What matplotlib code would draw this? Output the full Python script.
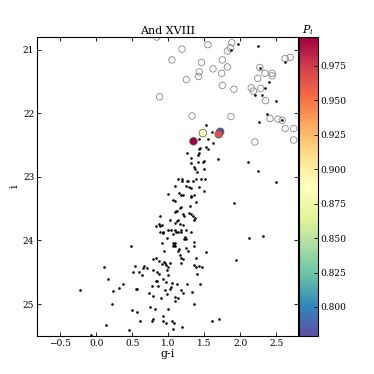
import matplotlib
matplotlib.use("Agg")
import matplotlib.pyplot as plt
import numpy as np

plt.rcParams["font.family"] = "DejaVu Serif"
plt.rcParams["mathtext.fontset"] = "dejavuserif"

# non-member stars (open circles)
circ_gi = [0.84, 1.19, 1.55, 1.88, 1.86, 1.82, 1.05, 1.46, 1.75, 1.82, 1.62, 1.43, 1.74,
           1.42, 1.25, 1.75, 1.91, 0.88, 2.27, 2.34, 2.44, 2.44, 2.24, 2.15, 2.18, 2.28,
           2.35, 2.62, 2.69, 1.33, 1.87, 2.41, 2.52, 2.58, 2.62, 2.74, 2.74, 2.20]
circ_i = [20.80, 20.99, 20.92, 20.89, 20.97, 21.02, 21.16, 21.20, 21.16, 21.27, 21.30, 21.35,
          21.37, 21.42, 21.47, 21.56, 21.62, 21.74, 21.28, 21.37, 21.37, 21.41, 21.45, 21.60,
          21.65, 21.61, 21.80, 21.14, 21.12, 22.04, 22.05, 22.08, 22.09, 22.11, 22.24, 22.24,
          22.42, 22.45]

# all sources (small dots)
dot_gi = [1.96, 1.87, 2.24, 2.62, 2.27, 2.40, 2.34, 2.20, 2.30, 2.50, 2.37, 2.26, 1.52, 2.58,
          1.60, 1.42, 1.55, 1.62, 1.44, 1.43, 1.53, 1.55, 1.26, 1.42, 1.41, 1.31, 1.69, 1.50,
          1.48, 1.41, 1.32, 2.10, 1.36, 1.37, 1.50, 2.24, 1.40, 2.50, 1.14, 1.19, 1.19, 1.26,
          1.28, 1.38, 1.45, 1.51, 1.34, 1.09, 1.24, 1.29, 1.42, 1.49, 1.32,
          0.99, 1.15, 1.17, 1.21, 1.32, 1.36, 1.31, 1.39, 1.07, 1.09, 1.91, 1.18, 1.16, 1.30,
          1.11, 1.12, 1.09, 1.29, 1.32, 1.34, 1.20, 1.22, 1.37, 1.36, 0.89, 1.02, 1.14, 1.12,
          1.09, 1.16, 1.21, 0.83, 0.87, 0.91, 0.89, 1.00, 1.04, 1.10, 1.11, 1.13, 1.17, 1.17,
          1.24, 1.07, 1.31, 0.88, 0.92, 0.92, 2.12, 2.32, 0.98, 1.23, 1.24, 1.22, 0.91, 1.06,
          1.08, 1.10, 1.09, 1.07, 1.35, 1.36, 1.24, 1.28, 1.15, 1.13, 0.94, 1.52, 1.16, 1.17,
          1.21, 0.83, 0.79, 1.38, 0.49,
          1.94, 0.94, 0.96, 0.91, 0.97, 0.87, 1.02, 1.00, 1.18, 0.67, 0.65, 0.70, 1.36, 1.42,
          1.47, 1.39, 0.79, 0.98, 0.85, 0.87, 0.64, 1.00, 1.40, 0.92, 0.83, 0.85, 0.97, 1.05,
          0.78, 0.86, 1.04, 1.02, 1.12, 1.26, 1.44, 0.96, 1.17, 1.21, 1.33, 0.73, 0.98, 0.79,
          0.90, 1.10, 1.13, 1.09, 1.35, 0.99, 0.75, 0.81, 0.92, 0.79, 0.78, 0.92, 1.05, 1.08,
          0.97, 0.61, 1.60, 1.70, 1.19, 1.07,
          0.11, 0.54, 0.51, 0.59, 0.17, 0.37, 0.31, 0.23, 0.55, 0.57, -0.22, 0.22, 0.50, 0.56,
          0.13, 0.45, -0.07]
dot_i = [20.91, 21.00, 20.94, 21.20, 21.28, 21.50, 21.60, 21.71, 21.71, 21.81, 22.01, 22.14,
         22.19, 22.11,
         22.30, 22.41, 22.40, 22.46, 22.54, 22.56, 22.53, 22.56, 22.63, 22.63, 22.66, 22.71,
         22.72, 22.75, 22.76, 22.76, 22.78, 22.77, 22.85, 22.87, 22.88, 22.91, 22.93, 23.08,
         23.03, 23.04, 23.06, 23.07, 23.07, 23.04, 23.04, 23.03, 23.07, 23.15, 23.14, 23.16,
         23.16, 23.22, 23.17,
         23.27, 23.25, 23.28, 23.28, 23.30, 23.29, 23.32, 23.40, 23.36, 23.38, 23.41, 23.48,
         23.49, 23.45, 23.53, 23.54, 23.55, 23.56, 23.59, 23.61, 23.59, 23.62, 23.65, 23.68,
         23.62, 23.67, 23.67, 23.69, 23.72, 23.74, 23.75, 23.77, 23.74, 23.76, 23.78, 23.84,
         23.83, 23.84, 23.87, 23.86, 23.83, 23.86, 23.83, 23.90, 23.87, 23.87, 23.86, 23.88,
         23.96, 23.93, 23.96, 23.95, 23.97, 23.98, 24.04, 24.04, 24.07, 24.04, 24.08, 24.08,
         24.03, 24.09, 24.12, 24.16, 24.14, 24.16, 24.17, 24.18, 24.23, 24.27, 24.29, 24.27,
         24.29, 24.28, 24.08,
         24.31, 24.34, 24.35, 24.37, 24.38, 24.32, 24.35, 24.41, 24.35, 24.40, 24.43, 24.43,
         24.38, 24.40, 24.42, 24.42, 24.46, 24.47, 24.50, 24.53, 24.55, 24.55, 24.52, 24.61,
         24.63, 24.64, 24.65, 24.67, 24.71, 24.72, 24.73, 24.76, 24.69, 24.69, 24.69, 24.78,
         24.78, 24.82, 24.81, 24.83, 24.84, 24.87, 24.90, 24.89, 24.90, 24.95, 25.00, 25.07,
         25.05, 25.08, 25.19, 25.24, 25.26, 25.26, 25.26, 25.30, 25.30, 25.27, 25.27, 25.23,
         25.36, 25.39,
         24.42, 24.40, 24.50, 24.50, 24.61, 24.68, 24.75, 24.80, 24.77, 24.77, 24.78, 25.00,
         25.09, 25.12, 25.33, 25.41, 25.49]

# candidate members, coloured by membership probability
mem_gi = [1.35, 1.48, 1.72, 1.70]
mem_i = [22.44, 22.31, 22.29, 22.33]
mem_p = [0.996, 0.888, 0.779, 0.966]

fig = plt.figure(figsize=(3.74, 3.74), dpi=100)
ax = fig.add_axes([0.099, 0.102, 0.698, 0.799])
cax = fig.add_axes([0.799, 0.102, 0.051, 0.799])

ax.scatter(circ_gi, circ_i, s=22, facecolors="none", edgecolors="#888888", linewidths=0.6, zorder=2)
ax.scatter(dot_gi, dot_i, s=3.5, color="black", linewidths=0, zorder=3)
sc = ax.scatter(mem_gi, mem_i, c=mem_p, cmap="Spectral_r", s=30, edgecolors="#555555",
                linewidths=0.5, zorder=4)

ax.set_xlim(-0.82, 2.8)
ax.set_ylim(25.5, 20.8)
ax.set_xticks([-0.5, 0.0, 0.5, 1.0, 1.5, 2.0, 2.5])
ax.set_yticks([21, 22, 23, 24, 25])
ax.tick_params(direction="in", top=True, right=True, length=3, width=0.6, labelsize=6.5, pad=2)
for sp in ax.spines.values():
    sp.set_linewidth(0.8)
ax.set_xlabel("g-i", fontsize=8, labelpad=1)
ax.set_ylabel("i", fontsize=8, labelpad=2)
ax.set_title("And XVIII", fontsize=8, pad=2)

cb = fig.colorbar(sc, cax=cax)
cb.set_ticks([0.800, 0.825, 0.850, 0.875, 0.900, 0.925, 0.950, 0.975])
cb.ax.yaxis.set_major_formatter(matplotlib.ticker.FormatStrFormatter("%.3f"))
cb.ax.tick_params(direction="in", length=3, width=0.6, labelsize=6.5, pad=2)
cb.outline.set_linewidth(0.8)
cax.set_title("$P_i$", fontsize=8, pad=2)

fig.savefig("out.png", dpi=100)
